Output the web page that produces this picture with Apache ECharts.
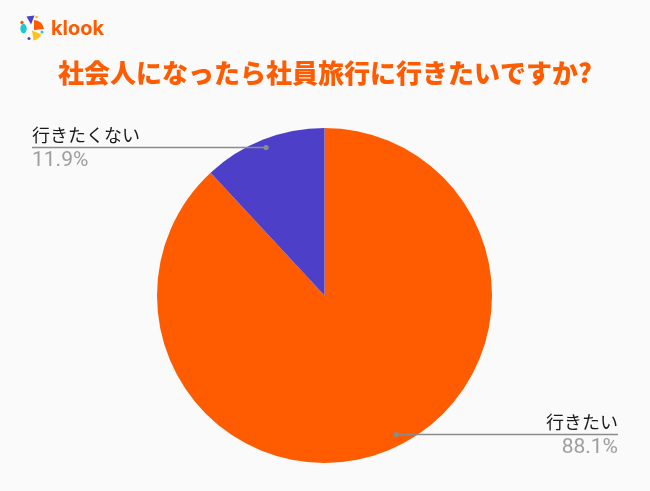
<!DOCTYPE html>
<html>
<head>
<meta charset="utf-8">
<script src="https://cdn.jsdelivr.net/npm/echarts@6/dist/echarts.min.js"></script>
<style>
  html, body { margin: 0; padding: 0; background: #fafafa; }
  #chart { width: 650px; height: 491px; }
</style>
</head>
<body>
<div id="chart"></div>
<script>
// ---- data ----
const titleText = '社会人になったら社員旅行に行きたいですか?';
const categories = ['行きたい', '行きたくない'];
const values = [88.1, 11.9];
const colors = ['#ff5b00', '#4e3fc8'];

// ---- layout / style ----
const W = 650, H = 491;
const CX = 324.5, CY = 295.5, R = 167.5;
const EDGE = 32;
// dot (label-line anchor) placement inside each slice
const dotAngleShift = [-5.9, 0];
const dotRadiusFrac = [0.93, 0.955];

function dotPoint(i) {
  const total = values.reduce((a, b) => a + b, 0);
  let before = 0;
  for (let k = 0; k < i; k++) before += values[k];
  const mid = (before + values[i] / 2) / total * 360 + dotAngleShift[i];
  const t = mid * Math.PI / 180;
  const r = R * dotRadiusFrac[i];
  return [CX + r * Math.sin(t), CY - r * Math.cos(t)];
}

const chart = echarts.init(document.getElementById('chart'), null, { renderer: 'canvas' });

const leaders = [];
categories.forEach((c, i) => {
  const p = dotPoint(i);
  const isLeft = p[0] < W / 2;
  const ex = isLeft ? EDGE : W - EDGE;
  const y = Math.round(p[1]) + 0.5;
  leaders.push({
    type: 'line', shape: { x1: ex, y1: y, x2: p[0], y2: y },
    style: { stroke: '#8c8c8c', lineWidth: 1.3 }, z: 100
  });
  leaders.push({
    type: 'circle', shape: { cx: p[0], cy: y, r: 2.6 },
    style: { fill: '#8c8c8c' }, z: 101
  });
});

const logo = [
  { type: 'polygon', shape: { points: [[26.5, 16.5], [34.5, 15.5], [31, 24.5]] }, style: { fill: '#4e3fc8' } },
  { type: 'sector', shape: { cx: 34, cy: 30, r0: 0, r: 10, startAngle: -Math.PI * 0.5, endAngle: -Math.PI * 0.03 }, style: { fill: '#ff5b00' } },
  { type: 'ellipse', shape: { cx: 23.5, cy: 28.5, rx: 3.2, ry: 4.8 }, style: { fill: '#1ec8d0' } },
  { type: 'sector', shape: { cx: 32, cy: 30.5, r0: 0, r: 10, startAngle: Math.PI * 0.12, endAngle: Math.PI * 0.45 }, style: { fill: '#ffc31a' } },
  { type: 'circle', shape: { cx: 22, cy: 22.5, r: 1.7 }, style: { fill: '#ff5b00' } },
  { type: 'circle', shape: { cx: 42, cy: 32, r: 1.5 }, style: { fill: '#1ec8d0' } },
  { type: 'circle', shape: { cx: 29, cy: 38.5, r: 1.5 }, style: { fill: '#4e3fc8' } },
  { type: 'circle', shape: { cx: 36.5, cy: 17, r: 1.3 }, style: { fill: '#ffc31a' } },
  { type: 'text', x: 51, y: 28.5, style: { text: 'klook', fill: '#ff5b00', font: 'bold 20px Inter, "Noto Sans", sans-serif', verticalAlign: 'middle' } }
];

const option = {
  backgroundColor: '#fafafa',
  animation: false,
  title: {
    text: titleText,
    left: 'center',
    top: 55,
    textStyle: {
      color: '#ff5b00',
      fontSize: 26,
      fontWeight: 900,
      fontFamily: '"Noto Sans CJK JP", sans-serif'
    }
  },
  graphic: logo.concat(leaders),
  series: [{
    type: 'pie',
    center: [CX, CY],
    radius: [0, R],
    startAngle: 90,
    clockwise: true,
    color: colors,
    data: categories.map((c, i) => ({ name: c, value: values[i] })),
    label: {
      show: true,
      position: 'outside',
      formatter: p => '{n|' + p.name + '}\n{p|' + p.value.toFixed(1) + '%}',
      rich: {
        n: { fontSize: 18, lineHeight: 25, color: '#1a1a1a', fontFamily: '"Noto Sans CJK JP", sans-serif' },
        p: { fontSize: 21, lineHeight: 25, color: '#9e9e9e', fontFamily: 'Roboto, sans-serif' }
      }
    },
    labelLine: { show: false },
    labelLayout: function (params) {
      const i = params.dataIndex;
      const d = dotPoint(i);
      const isLeft = d[0] < W / 2;
      return {
        x: isLeft ? EDGE : W - EDGE,
        y: Math.round(d[1]) + 1,
        align: isLeft ? 'left' : 'right',
        verticalAlign: 'middle'
      };
    },
    emphasis: { disabled: true }
  }]
};

chart.setOption(option);
</script>
</body>
</html>
